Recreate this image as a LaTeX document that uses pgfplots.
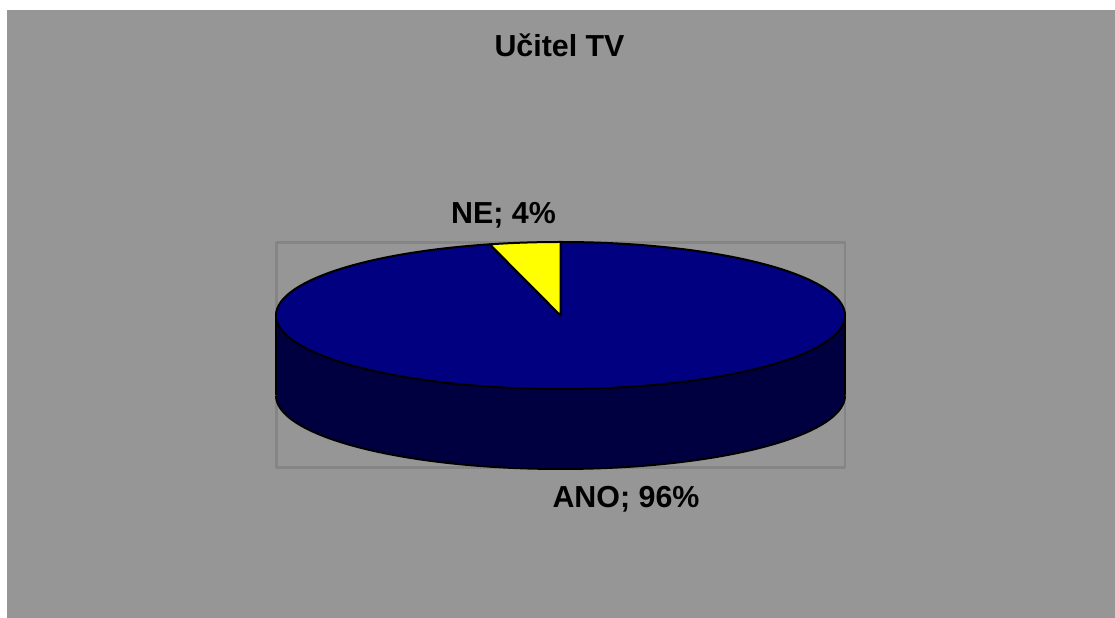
\documentclass[border=0pt]{standalone}
\usepackage{pgfplots}
\pgfplotsset{compat=1.18}
\usepgfplotslibrary{fillbetween}
\usepackage{fontspec}
\setmainfont{Liberation Sans}
\definecolor{bg}{HTML}{969696}
\definecolor{topc}{HTML}{000080}
\definecolor{sidec}{HTML}{000040}
\definecolor{framec}{HTML}{858585}
\definecolor{nec}{HTML}{FFFF00}
\begin{document}
\begin{tikzpicture}
% data
\pgfmathsetmacro\vANO{96}
\pgfmathsetmacro\vNE{4}
\pgfmathsetmacro\aANO{\vANO/(\vANO+\vNE)*360}
% pie geometry (pixels)
\def\cx{560.5}\def\cy{315.5}\def\ra{284.5}\def\rb{73.5}\def\dep{80}
\begin{axis}[width=1115bp,height=618bp,scale only axis,
  xmin=0,xmax=1115,ymin=0,ymax=618,y dir=reverse,hide axis,
  line join=round, fill between/on layer=main]
\fill[white] (axis cs:0,0) rectangle (axis cs:1115,618);
\fill[bg] (axis cs:7,10) rectangle (axis cs:1115,618);
\draw[framec,line width=2.2bp] (axis cs:276.5,242.5) rectangle (axis cs:845,467.5);
% side of the cake
\addplot[name path=upper,draw=none,domain=90:270,samples=150] ({\cx+\ra*sin(x)},{\cy-\rb*cos(x)});
\addplot[name path=lower,draw=none,domain=90:270,samples=150] ({\cx+\ra*sin(x)},{\cy+\dep-\rb*cos(x)});
\addplot[sidec] fill between[of=upper and lower];
\addplot[black,line width=2bp,domain=90:270,samples=150] ({\cx+\ra*sin(x)},{\cy+\dep-\rb*cos(x)});
\addplot[black,line width=2bp] coordinates {(845,315.5) (845,395.5)};
\addplot[black,line width=2bp] coordinates {(276,315.5) (276,395.5)};
% top slices
\addplot[fill=topc,draw=black,line width=2bp,domain=0:\aANO,samples=300]
  ({\cx+\ra*sin(x)},{\cy-\rb*cos(x)}) -- (axis cs:\cx,\cy) -- cycle;
\addplot[fill=nec,draw=black,line width=2bp,domain=\aANO:360,samples=30]
  ({\cx+\ra*sin(x)},{\cy-\rb*cos(x)}) -- (axis cs:\cx,\cy) -- cycle;
% texts
\node[anchor=base,font=\fontsize{30.5}{36}\selectfont\bfseries] at (axis cs:559.5,57) {Učitel TV};
\node[anchor=base,font=\fontsize{30.5}{36}\selectfont\bfseries] at (axis cs:503.5,224) {NE; 4\%};
\node[anchor=base,font=\fontsize{30.5}{36}\selectfont\bfseries] at (axis cs:626,508) {ANO; 96\%};
\end{axis}
\end{tikzpicture}
\end{document}
